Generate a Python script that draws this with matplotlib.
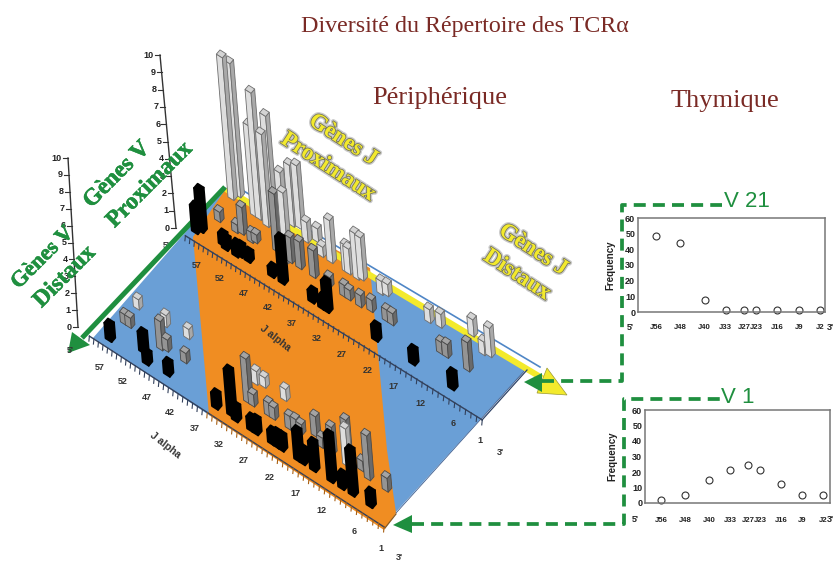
import matplotlib
matplotlib.use("Agg")
import matplotlib.pyplot as plt
import matplotlib.patheffects as pe
from matplotlib.patches import Polygon

plt.rcParams["font.family"] = ["Liberation Sans", "DejaVu Sans"]

# bars on the plane: J gene, V row (0 = distal edge, 1 = proximal edge), height, shade
bar_j = [57.9,57.3,58.0,52.1,53.1,49.7,50.3,45.5,46.2,43.7,47.0,45.8,43.2,41.3,43.4,42.1,38.5,39.8,37.9,34.8,34.3,32.6,31.9,
         57.2,52.7,53.7,50.6,50.0,35.5,32.4,31.4,29.2,27.2,
         58.3,58.9,54.0,53.1,51.0,50.4,48.8,44.0,41.9,35.9,33.9,32.9,23.3,15.8,7.9,
         27.8,26.9,24.1,23.0,18.4,16.4,13.4,12.2,11.2,7.9,7.7,6.6,
         58.1,58.1,57.1,58.2,52.5,50.7,50.5,52.5,49.6,46.7,48.2,45.9,
         36.7,33.9,32.7,33.2,34.2,32.8,32.2,28.6,29.0,28.0,29.6,28.6,25.4,24.4,23.4,24.8,23.9,22.8,20.1,19.1,20.6,16.9,18.6,16.5,13.4,11.2,13.2,13.3,9.1,10.7,5.5,8.8,5.2]
bar_v = [.98,1.01,1.0,.97,.97,.98,.96,.91,.88,.86,1.03,1.04,.87,.87,1.0,1.03,.87,.98,.98,.98,.98,.98,.99,
         .85,.86,.85,.85,.86,.87,.87,.87,.87,.88,
         .76,.74,.76,.75,.75,.76,.76,.76,.76,.76,.76,.76,.77,.77,.77,
         .98,.99,.88,.88,.99,1.0,.89,.89,1.05,.89,1.0,1.01,
         .26,.16,.16,.05,.09,.05,.15,.26,.16,.06,.27,.16,
         .05,.06,.05,.16,.26,.27,.16,.27,.16,.16,.05,.05,.05,.05,.05,.16,.17,.17,.05,.05,.2,.05,.17,.17,.05,.05,.16,.17,.05,.18,.05,.16,.16]
bar_h = [8.3,7.8,5.7,7.4,5.3,6.4,5.4,4.5,3.4,4.1,3.6,3.7,1.5,1.6,1.2,0.8,1.6,0.6,2.5,1.6,1.5,2.7,2.5,
         0.6,1.6,0.5,0.6,0.5,0.6,0.7,0.6,0.7,0.7,
         2.4,1.5,0.6,0.6,0.7,0.6,0.5,0.5,2.6,0.6,0.6,1.7,0.8,0.8,0.9,
         0.8,0.7,0.7,0.7,0.8,0.8,0.7,0.8,1.0,1.7,0.8,1.7,
         0.6,0.6,0.6,0.9,1.1,0.6,1.7,0.7,0.7,0.7,0.6,0.6,
         0.8,2.6,0.8,2.6,0.8,0.6,0.7,0.7,0.8,0.7,0.7,0.8,0.7,0.8,0.8,0.8,0.7,0.6,1.7,0.8,1.2,1.6,0.6,1.6,2.7,0.8,2.2,2.6,2.6,0.6,0.8,2.6,0.8]
bar_shade = list("lllllllldlllddlldllllll" "dddddddddd" "kkkkkkkkkkkkkkk" "llddllddldll" "lddkkkdldkld"
                 "kkkdlldlddkkkkkdddkkdkddkkldkdkdd")

j_labels = [57, 52, 47, 42, 37, 32, 27, 22, 17, 12, 6, 1]
z_ticks = list(range(11))

# the two thymic panels
thy_labels = ["J56", "J48", "J40", "J33", "J27", "J23", "J16", "J9", "J2"]
thy_j = [56, 48, 40, 33, 27, 23, 16, 9, 2]
v21_freq = [48.7, 43.8, 7.6, 1, 1, 1, 1, 1, 1]
v1_freq = [1.7, 5.3, 15, 21, 24.4, 21, 12, 5, 5]

W, H = 835, 561
RED = "#7a2a25"
GREEN = "#1f8f3f"
YELLOW = "#f3ea2c"
BLUE = "#6a9fd6"
ORANGE = "#f08d22"
SERIF = ["Liberation Serif", "DejaVu Serif"]

SHADES = {
    "l": ("#dedede", "#a9a9a9", "#d4d4d4", "#6e6e6e"),
    "d": ("#949494", "#6a6a6a", "#a4a4a4", "#4a4a4a"),
    "k": ("#000000", "#000000", "#000000", "#000000"),
}


def project(j, v, h=0):
    # plane to screen: affine map fitted on the plane corners
    t = (60 - j) / 59
    x = 95 + 292 * t + 130 * v
    y = 340 + 186 * t - 153 * v
    return x - 1.4 * h, y - 17.2 * h


def axis_curve(j, x57, y57, ay, bx, by):
    # labels spread a bit towards the 3' end (perspective)
    n = 57 - j
    return x57 + 4.56 * n + bx * n * n, y57 + ay * n + by * n * n


def draw_bar(ax, j, v, h, shade):
    x, y = project(j, v)
    tx, ty = project(j, v, h)
    a = (3.0, 1.9)
    b = (1.8, -2.1)
    left, right, top, edge = SHADES[shade]
    foot = [(-a[0] - b[0], -a[1] - b[1]), (a[0] - b[0], a[1] - b[1]),
            (a[0] + b[0], a[1] + b[1]), (-a[0] + b[0], -a[1] + b[1])]
    low = [(x + p, y + q) for p, q in foot]
    up = [(tx + p, ty + q) for p, q in foot]
    lw = 1.4 if shade == "k" else 0.6
    z = 10 + y / 1000
    for pts, col in [([low[0], low[1], up[1], up[0]], left),
                     ([low[1], low[2], up[2], up[1]], right),
                     (up, top)]:
        ax.add_patch(Polygon(pts, closed=True, fc=col, ec=edge, lw=lw, joinstyle="round", zorder=z))


def draw_z_axis(ax, x0, y0, x1, y1):
    ax.plot([x0, x1], [y0, y1], color="#333333", lw=1, zorder=4)
    for val in z_ticks:
        x = x0 + (x1 - x0) * val / 10
        y = y0 + (y1 - y0) * val / 10
        ax.plot([x - 5, x], [y, y], color="#333333", lw=0.8, zorder=4)
        ax.text(x - 6, y, str(val), ha="right", va="center", fontsize=6.5, fontweight="bold", color="#222222", zorder=4)


def draw_j_axis(ax, x57, y57, ay, bx, by, dx, dy, near=False):
    start = axis_curve(60, x57, y57, ay, bx, by)
    end = axis_curve(1, x57, y57, ay, bx, by)
    ax.plot([start[0] + dx, end[0] + dx], [start[1] + dy, end[1] + dy], color="#33415c", lw=1, zorder=3)
    for j in range(60, 0, -1):
        x, y = axis_curve(j, x57, y57, ay, bx, by)
        col = "#33415c"
        if near and j < 36:
            col = "#a85f12"
        ax.plot([x + dx, x + dx - 0.5], [y + dy, y + dy + 5], color=col, lw=0.8, zorder=3)
    for j in j_labels:
        x, y = axis_curve(j, x57, y57, ay, bx, by)
        ax.text(x, y, str(j), ha="center", va="center", fontsize=6.5, fontweight="bold", color="#333333", zorder=4)


def slanted(ax, x, y, s, rot, color, size, shadow=False):
    fx = [pe.Stroke(linewidth=0.4, foreground=color), pe.Normal()]
    if shadow:
        fx = [pe.Stroke(linewidth=3.2, foreground="#8a8a8a", alpha=0.45),
              pe.Stroke(linewidth=1.2, foreground="#77775a"), pe.Normal()]
    ax.text(x, y, s, rotation=rot, rotation_mode="anchor", ha="center", va="center", color=color,
            fontsize=size, fontweight="bold", family=SERIF, path_effects=fx, zorder=40)


def dashed(ax, xs, ys):
    ax.plot(xs, ys, color=GREEN, lw=2.7, linestyle=(0, (3.2, 1.9)), zorder=30, solid_joinstyle="miter")


def thymic_panel(fig, left, top, right, bottom, xlim, freq, xpad, lab_x, lab_y, j3):
    ax = fig.add_axes([left / W, 1 - bottom / H, (right - left) / W, (bottom - top) / H])
    ax.plot(thy_j, freq, "o", mfc="none", mec="#333333", ms=5, mew=0.8, clip_on=False)
    ax.set_xlim(*xlim)
    ax.set_ylim(0, 60)
    ax.set_yticks(range(0, 61, 10))
    ax.set_xticks(thy_j)
    ax.set_xticklabels(thy_labels)
    ax.tick_params(length=0, labelsize=6.5, colors="#222222", pad=2)
    ax.tick_params(axis="x", pad=xpad, labelsize=5.6)
    for lab in ax.get_xticklabels() + ax.get_yticklabels():
        lab.set_fontweight("bold")
    for sp in ax.spines.values():
        sp.set_color("#777777")
        sp.set_linewidth(1.1)
    ax.set_ylabel("Frequency", fontsize=7, fontweight="bold", color="#222222")
    ax.yaxis.set_label_coords(lab_x, 0.5)
    ax.text(64.6, lab_y, "5'", transform=ax.get_xaxis_transform(), ha="center", va="center",
            fontsize=6.5, fontweight="bold", color="#222222")
    ax.text(j3, lab_y, "3'", transform=ax.get_xaxis_transform(), ha="right", va="center",
            fontsize=6.5, fontweight="bold", color="#222222")
    return ax


def main():
    fig = plt.figure(figsize=(W / 100, H / 100), dpi=100)
    ax = fig.add_axes([0, 0, 1, 1])
    ax.set_xlim(0, W)
    ax.set_ylim(H, 0)
    ax.axis("off")

    # plane
    ax.add_patch(Polygon([(225, 187), (527, 368), (395, 513), (385, 528), (209, 415), (93, 338)], fc=BLUE, ec="none", zorder=1))
    ax.add_patch(Polygon([(225, 190), (370, 268), (387, 450), (396, 513), (384, 530), (209, 415), (193, 237)], fc=ORANGE, ec="none", zorder=2))
    ax.plot([527, 396], [368, 513], color="#3f5f90", lw=0.6, zorder=2)
    ax.plot([482, 527], [420, 370], color="#2f4468", lw=0.9, zorder=3)
    ax.plot([385, 396], [528, 514], color="#8a5a20", lw=0.9, zorder=3)

    # borders of the plane, arrows at the ends
    ax.plot([232, 540], [184, 367], color="#4f86c6", lw=1.2, zorder=2.4)
    ax.plot([226, 542], [189, 378], color=YELLOW, lw=4.4, zorder=2.5, solid_capstyle="butt")
    ax.add_patch(Polygon([(547, 368), (567, 395), (537, 393)], fc=YELLOW, ec="#999933", lw=0.5, zorder=2.6))
    ax.plot([225, 82], [187, 338], color=GREEN, lw=3.6, zorder=5, solid_capstyle="butt")
    ax.add_patch(Polygon([(68, 353), (72, 332), (90, 345)], fc=GREEN, ec="none", zorder=5))

    draw_z_axis(ax, 78, 327, 68, 158)
    draw_z_axis(ax, 176, 228, 160, 55)
    draw_j_axis(ax, 197, 265, 2.766, 0.0089, 0.0067, 2, -21)
    draw_j_axis(ax, 100, 367, 2.975, 0.0082, 0.0049, 3, -22, near=True)
    ax.text(166, 245, "5'", ha="center", va="center", fontsize=6.5, fontweight="bold", color="#333333", zorder=4)
    ax.text(70, 350, "5'", ha="center", va="center", fontsize=6.5, fontweight="bold", color="#333333", zorder=6)
    ax.text(500, 452, "3'", ha="center", va="center", fontsize=6.5, fontweight="bold", color="#333333", zorder=4)
    ax.text(399, 558, "3'", ha="center", va="center", fontsize=6.5, fontweight="bold", color="#333333", zorder=4)
    ax.text(275, 338, "J alpha", rotation=-38, rotation_mode="anchor", ha="center", va="center", fontsize=7.5, fontweight="bold", color="#333333", zorder=4)
    ax.text(165, 445, "J alpha", rotation=-38, rotation_mode="anchor", ha="center", va="center", fontsize=7.5, fontweight="bold", color="#333333", zorder=4)

    for j, v, h, s in zip(bar_j, bar_v, bar_h, bar_shade):
        draw_bar(ax, j, v, h, s)

    # titles
    ax.text(465, 26, "Diversité du Répertoire des TCRα", ha="center", va="center", fontsize=17.3, color=RED, family=SERIF)
    ax.text(440, 98, "Périphérique", ha="center", va="center", fontsize=19, color=RED, family=SERIF)
    ax.text(725, 101, "Thymique", ha="center", va="center", fontsize=19, color=RED, family=SERIF)

    slanted(ax, 343, 140, "Gènes J", -33, YELLOW, 16.5, shadow=True)
    slanted(ax, 328, 167, "Proximaux", -33, YELLOW, 16.5, shadow=True)
    slanted(ax, 533, 250, "Gènes J", -33, YELLOW, 16.5, shadow=True)
    slanted(ax, 517, 275, "Distaux", -33, YELLOW, 16.5, shadow=True)
    slanted(ax, 117, 175, "Gènes V", 45, GREEN, 17)
    slanted(ax, 150, 185, "Proximaux", 45, GREEN, 17)
    slanted(ax, 43, 258, "Gènes V", 45, GREEN, 16)
    slanted(ax, 65, 277, "Distaux", 45, GREEN, 17)

    # links to the thymic panels
    ax.add_patch(Polygon([(524, 382), (542, 373), (542, 392)], fc=GREEN, ec="none", zorder=31))
    dashed(ax, [542, 622, 622, 722], [381, 381, 205, 205])
    ax.add_patch(Polygon([(393, 525), (412, 515), (412, 533)], fc=GREEN, ec="none", zorder=31))
    dashed(ax, [412, 624, 624, 720], [524, 524, 399, 399])
    ax.text(724, 201, "V 21", ha="left", va="center", fontsize=16, color=GREEN)
    ax.text(721, 397, "V 1", ha="left", va="center", fontsize=16, color=GREEN)

    thymic_panel(fig, 638, 218, 825, 312, (61.9, 0.36), v21_freq, 8.5, -0.123, -0.16, -2.6)
    thymic_panel(fig, 645, 410, 830, 503, (61.3, -0.3), v1_freq, 10, -0.151, -0.18, -1.5)

    fig.savefig("out.png", dpi=100)


if __name__ == "__main__":
    main()
